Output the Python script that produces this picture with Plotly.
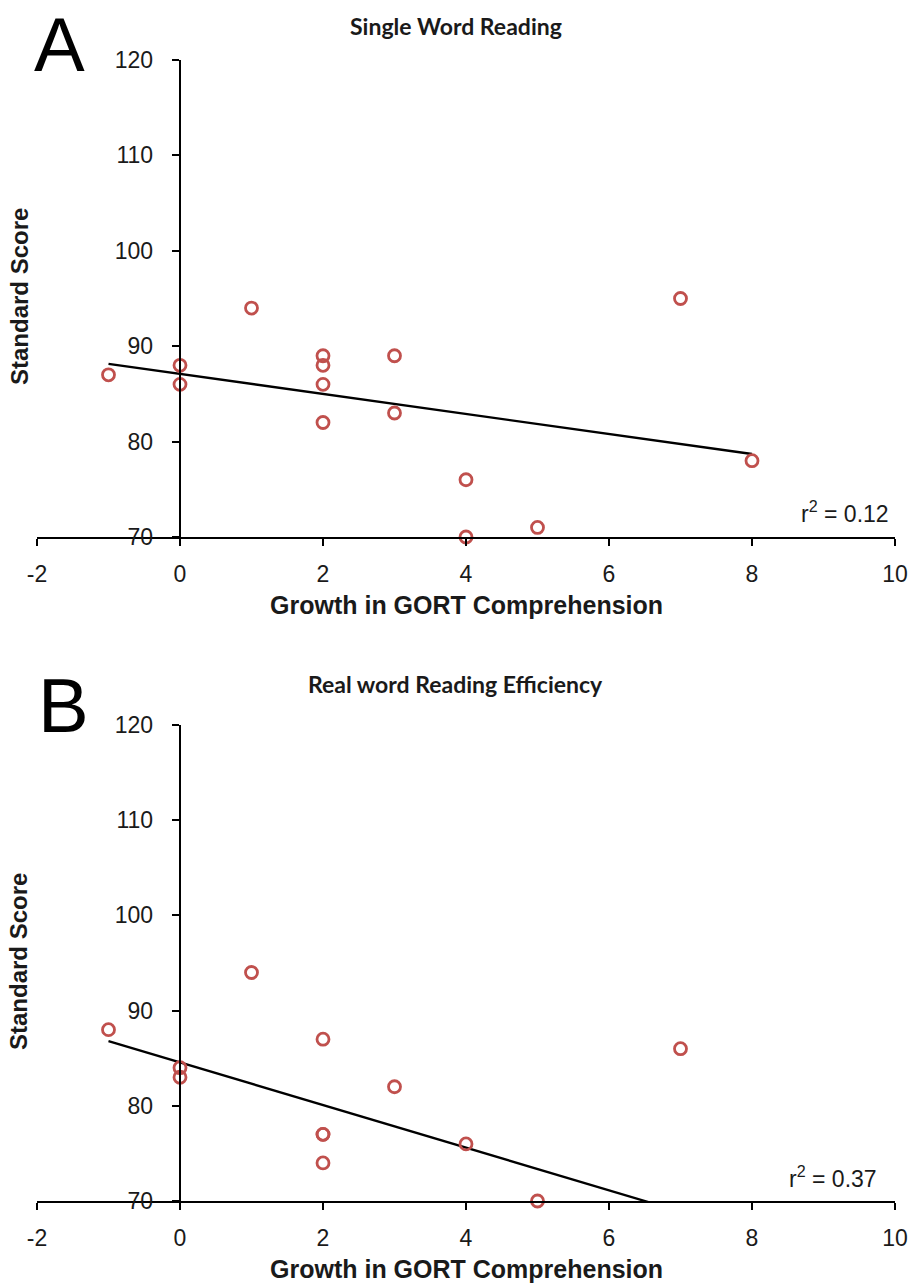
import plotly.graph_objects as go
import numpy as np

# Panel A: Single Word Reading
a_x = [-1, 0, 0, 1, 2, 2, 2, 2, 3, 3, 4, 4, 5, 7, 8]
a_y = [87, 88, 86, 94, 89, 88, 86, 82, 89, 83, 76, 70, 71, 95, 78]
a_trend = {"slope": -1.05, "intercept": 87.1, "x": [-1, 8]}
a_r2 = "r<sup>2</sup> = 0.12"

# Panel B: Real word Reading Efficiency
b_x = [-1, 0, 0, 1, 2, 2, 2, 2, 3, 4, 5, 7]
b_y = [88, 84, 83, 94, 87, 77, 77, 74, 82, 76, 70, 86]
b_trend = {"slope": -2.24, "intercept": 84.56, "x": [-1, 8]}
b_r2 = "r<sup>2</sup> = 0.37"

x_ticks = [-2, 0, 2, 4, 6, 8, 10]
x_ticktext = ["-2", "0", "2", "4", "6", "8", "10"]
y_ticks = [70, 80, 90, 100, 110, 120]

MARK = "#c0504d"
TICKFONT = dict(family="Liberation Sans, Arial, sans-serif", size=23, color="#1a1a1a")
TITLEFONT = dict(family="Liberation Sans, Arial, sans-serif", size=25, color="#1a1a1a")

fig = go.Figure()

def add_panel(xs, ys, trend, xa, ya):
    tx = np.array(trend["x"], dtype=float)
    ty = trend["slope"] * tx + trend["intercept"]
    fig.add_trace(go.Scatter(x=tx, y=ty, mode="lines", line=dict(color="black", width=2.3),
                             xaxis=xa, yaxis=ya, showlegend=False, hoverinfo="skip"))
    fig.add_trace(go.Scatter(x=xs, y=ys, mode="markers",
                             marker=dict(symbol="circle-open", size=12, color=MARK,
                                         line=dict(width=2.8, color=MARK)),
                             cliponaxis=False, xaxis=xa, yaxis=ya, showlegend=False))

add_panel(a_x, a_y, a_trend, "x", "y")
add_panel(b_x, b_y, b_trend, "x2", "y2")

ypos = (180 - 37) / 860
xcommon = dict(range=[-2, 10], tickvals=x_ticks, ticktext=x_ticktext, showline=True,
               linecolor="black", linewidth=2, ticks="outside", ticklen=7, tickwidth=2,
               tickcolor="black", showgrid=False, zeroline=False, tickfont=TICKFONT,
               ticklabelstandoff=8, domain=[0, 1])
ycommon = dict(range=[70, 120], tickvals=y_ticks, showline=True, linecolor="black", linewidth=2,
               ticks="outside", ticklen=7, tickwidth=2, tickcolor="black", showgrid=False,
               zeroline=False, tickfont=TICKFONT, ticklabelstandoff=14, anchor="free",
               position=ypos)

H = 1141.0
def py(pix):
    return (1201 - pix) / H
def px(pix):
    return (pix - 37) / 860.0

fig.update_layout(
    width=920, height=1285, autosize=False,
    margin=dict(l=37, r=23, t=60, b=84),
    paper_bgcolor="white", plot_bgcolor="white",
    xaxis=dict(anchor="y", **xcommon),
    yaxis=dict(domain=[py(537), 1.0], **ycommon),
    xaxis2=dict(anchor="y2", **xcommon),
    yaxis2=dict(domain=[0.0, py(725)], **ycommon),
)

ann = []
def text(x, y, t, font, xanchor="center", yanchor="middle", angle=0):
    ann.append(dict(x=x, y=y, xref="paper", yref="paper", text=t, showarrow=False,
                    font=font, xanchor=xanchor, yanchor=yanchor, textangle=angle))

TFONT = dict(family="Lato, Carlito, Calibri, sans-serif", size=23, color="#1a1a1a")
LFONT = dict(family="Liberation Sans, Arial, sans-serif", size=76, color="black")
YTFONT = dict(family="Liberation Sans, Arial, sans-serif", size=24, color="#1a1a1a")

text(px(456.5), py(26), "<b>Single Word Reading</b>", TFONT)
text(px(456), py(684), "<b>Real word Reading Efficiency</b>", TFONT)
text(px(60), py(0), "A", LFONT, yanchor="top")
text(px(64), py(706), "B", LFONT)
text(px(19), py(297), "<b>Standard Score</b>", YTFONT, angle=-90)
text(px(19), py(962), "<b>Standard Score</b>", YTFONT, angle=-90)
text(px(467), py(605), "<b>Growth in GORT Comprehension</b>", TITLEFONT)
text(px(467), py(1269), "<b>Growth in GORT Comprehension</b>", TITLEFONT)
text(px(893), py(512), a_r2, TICKFONT, xanchor="right")
text(px(881), py(1176.5), b_r2, TICKFONT, xanchor="right")
fig.update_layout(annotations=ann)

fig.write_html("out.html")
